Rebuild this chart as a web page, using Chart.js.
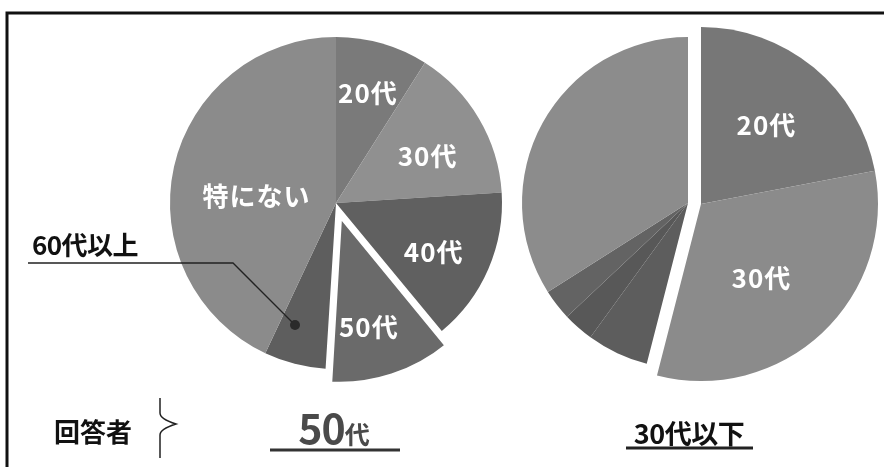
<!DOCTYPE html>
<html><head><meta charset="utf-8">
<script src="https://cdn.jsdelivr.net/npm/chart.js@4.4.1/dist/chart.umd.min.js"></script>
<style>
html,body{margin:0;padding:0;background:#fff;}
#wrap{position:relative;width:884px;height:467px;overflow:hidden;background:#fff;font-family:"Noto Sans CJK JP","Noto Sans",sans-serif;}
canvas{position:absolute;}
svg{position:absolute;left:0;top:0;}
.t{position:absolute;white-space:nowrap;font-weight:700;line-height:1;transform:translate(-50%,-50%);color:#111;}
</style></head><body>
<div id="wrap">
<canvas id="left" width="400" height="400" style="left:136px;top:3px"></canvas>
<canvas id="rightBase" width="400" height="400" style="left:488px;top:3px"></canvas>
<canvas id="rightTop" width="400" height="400" style="left:501px;top:4px"></canvas>
<svg width="884" height="467" viewBox="0 0 884 467">
  <path d="M7,467 L7,13 L884,13" fill="none" stroke="#111" stroke-width="3"/>
  <path d="M28,263 L233,263 L295,325" fill="none" stroke="#222" stroke-width="1.3"/>
  <circle cx="295" cy="325" r="5" fill="#2a2a2a"/>
  <path d="M160,398 L160,413 Q160,419 176,424 Q160,429 160,435 L160,458" fill="none" stroke="#222" stroke-width="1.5"/>
  <line x1="270" y1="450" x2="400" y2="450" stroke="#333" stroke-width="3"/>
  <line x1="626" y1="448" x2="753" y2="448" stroke="#222" stroke-width="3"/>
</svg>
<div class="t" style="left:85px;top:244px;font-size:26px;letter-spacing:-0.5px;">60代以上</div>
<div class="t" style="left:93px;top:431px;font-size:26px;">回答者</div>
<div class="t" style="left:334px;top:426px;color:#4a4a4a;display:flex;align-items:baseline;"><span style="font-size:41px;letter-spacing:-1px">50</span><span style="font-size:25px">代</span></div>
<div class="t" style="left:689px;top:432px;font-size:27px;letter-spacing:-0.5px;">30代以下</div>
</div>
<script>
// ---- data ----
const categories = ['20代', '30代', '40代', '50代', '60代以上', '特にない'];
const values50s = [9, 15, 15, 12, 6, 43];          // 回答者: 50代
const values30sUnder = [22, 32, 6, 3, 3, 34];      // 回答者: 30代以下

// ---- styles ----
const leftColors = ['#7a7a7a', '#909090', '#606060', '#6a6a6a', '#5e5e5e', '#8b8b8b'];
const rightColors = ['#777777', '#8b8b8b', '#5d5d5d', '#585858', '#636363', '#8c8c8c'];
const clear = 'rgba(0,0,0,0)';

const sliceLabels = {
  id: 'sliceLabels',
  afterDatasetsDraw(chart, args, opts) {
    if (!opts || !opts.items) return;
    const ctx = chart.ctx;
    const meta = chart.getDatasetMeta(0);
    ctx.save();
    ctx.fillStyle = opts.color || '#fff';
    ctx.font = opts.font;
    ctx.textAlign = 'center';
    ctx.textBaseline = 'middle';
    if ('letterSpacing' in ctx) ctx.letterSpacing = '1px';
    meta.data.forEach((arc, i) => {
      const lab = chart.data.labels[i];
      const it = opts.items[lab];
      if (!it) return;
      const p = arc.getProps(['x', 'y', 'startAngle', 'endAngle', 'outerRadius'], true);
      const cmid = (p.startAngle + p.endAngle) / 2;
      const off = (arc.options.offset || 0) / 4;
      const cx = p.x + Math.cos(cmid) * off, cy = p.y + Math.sin(cmid) * off;
      const a = cmid + (it.da || 0) * Math.PI / 180;
      const r = p.outerRadius * it.f;
      ctx.fillText(lab, cx + Math.cos(a) * r, cy + Math.sin(a) * r);
    });
    ctx.restore();
  }
};

function pie(id, values, colors, radius, offsets, borders, items) {
  return new Chart(document.getElementById(id), {
    type: 'pie',
    data: {
      labels: categories,
      datasets: [{
        data: values,
        backgroundColor: colors,
        borderColor: '#ffffff',
        borderWidth: borders,
        offset: offsets,
        radius: radius
      }]
    },
    options: {
      responsive: false,
      animation: false,
      events: [],
      layout: { padding: 0 },
      plugins: {
        legend: { display: false },
        tooltip: { enabled: false },
        sliceLabels: { items: items, font: '700 26px "Noto Sans CJK JP"', color: '#ffffff' }
      }
    },
    plugins: [sliceLabels]
  });
}

pie('left', values50s, leftColors, 166,
  [0, 0, 0, 48, 0, 0], [0, 0, 0, 5, 0, 0],
  { '20代': { f: 0.69 }, '30代': { f: 0.62, da: 3.5 }, '40代': { f: 0.66, da: 3.5 },
    '50代': { f: 0.70, da: 3.5 }, '特にない': { f: 0.48, da: -8 } });

pie('rightBase', values30sUnder, [clear, clear, rightColors[2], rightColors[3], rightColors[4], rightColors[5]], 166,
  0, 0, null);

pie('rightTop', values30sUnder, [rightColors[0], rightColors[1], clear, clear, clear, clear], 177,
  0, 0, { '20代': { f: 0.58 }, '30代': { f: 0.54, da: 4 } });
</script>
</body></html>
